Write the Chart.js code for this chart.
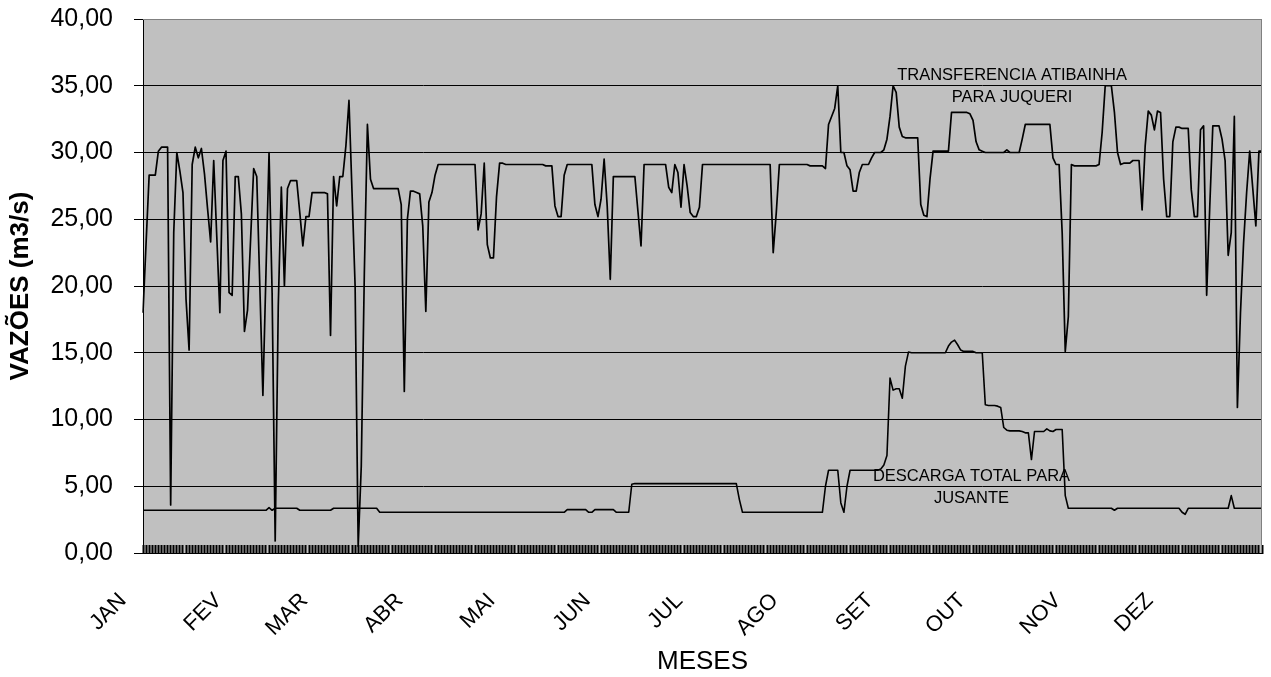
<!DOCTYPE html>
<html>
<head>
<meta charset="utf-8">
<title>Vazões</title>
<script src="https://cdn.jsdelivr.net/npm/chart.js@4.4.1/dist/chart.umd.min.js"></script>
<style>
  html, body { margin: 0; padding: 0; background: #fff; }
  #wrap { width: 1271px; height: 677px; }
</style>
</head>
<body>
<div id="wrap"><canvas id="vazoes" width="1271" height="677"></canvas></div>
<script>
// DATA

const monthNames = ['JAN', 'FEV', 'MAR', 'ABR', 'MAI', 'JUN', 'JUL', 'AGO', 'SET', 'OUT', 'NOV', 'DEZ'];
// first day (index) of each month in a 365-day year
const monthStarts = [0, 31, 59, 90, 120, 151, 181, 212, 243, 273, 304, 334];

// Transferencia Atibainha para Juqueri, m3/s, one value per day
const transferencia = [
  18.0, 23.2, 28.3, 28.3, 28.3, 30.1, 30.4, 30.4, 30.4, 3.6,
  24.0, 30.0, 28.6, 27.0, 19.0, 15.2, 29.1, 30.4, 29.6, 30.3,
  28.4, 25.8, 23.3, 29.4, 23.7, 18.0, 29.4, 30.1, 19.5, 19.3,
  28.2, 28.2, 25.4, 16.6, 18.2, 23.5, 28.8, 28.2, 20.0, 11.8,
  21.0, 30.0, 19.5, 0.9, 18.5, 27.4, 20.0, 27.3, 27.9, 27.9,
  27.9, 25.5, 23.0, 25.2, 25.2, 27.0, 27.0, 27.0, 27.0, 27.0,
  26.9, 16.3, 28.2, 26.0, 28.2, 28.2, 30.5, 33.9, 27.0, 20.0,
  0.5, 6.5, 21.0, 32.1, 28.0, 27.3, 27.3, 27.3, 27.3, 27.3,
  27.3, 27.3, 27.3, 27.3, 26.1, 12.1, 25.0, 27.1, 27.1, 27.0,
  26.9, 24.5, 18.1, 26.3, 27.0, 28.3, 29.1, 29.1, 29.1, 29.1,
  29.1, 29.1, 29.1, 29.1, 29.1, 29.1, 29.1, 29.1, 29.1, 24.2,
  25.4, 29.2, 23.1, 22.1, 22.1, 26.7, 29.2, 29.2, 29.1, 29.1,
  29.1, 29.1, 29.1, 29.1, 29.1, 29.1, 29.1, 29.1, 29.1, 29.1,
  29.1, 29.0, 29.0, 29.0, 26.0, 25.2, 25.2, 28.3, 29.1, 29.1,
  29.1, 29.1, 29.1, 29.1, 29.1, 29.1, 29.1, 26.1, 25.2, 26.5,
  29.5, 26.0, 20.5, 28.2, 28.2, 28.2, 28.2, 28.2, 28.2, 28.2,
  28.2, 25.6, 23.0, 29.1, 29.1, 29.1, 29.1, 29.1, 29.1, 29.1,
  29.1, 27.4, 27.0, 29.1, 28.5, 25.9, 29.1, 27.5, 25.5, 25.2,
  25.2, 25.9, 29.1, 29.1, 29.1, 29.1, 29.1, 29.1, 29.1, 29.1,
  29.1, 29.1, 29.1, 29.1, 29.1, 29.1, 29.1, 29.1, 29.1, 29.1,
  29.1, 29.1, 29.1, 29.1, 29.1, 22.5, 25.5, 29.1, 29.1, 29.1,
  29.1, 29.1, 29.1, 29.1, 29.1, 29.1, 29.1, 29.0, 29.0, 29.0,
  29.0, 29.0, 28.8, 32.1, 32.7, 33.3, 35.0, 30.0, 30.0, 29.0,
  28.7, 27.1, 27.1, 28.5, 29.1, 29.1, 29.1, 29.6, 30.0, 30.0,
  30.0, 30.2, 31.0, 32.7, 35.0, 34.5, 31.9, 31.2, 31.1, 31.1,
  31.1, 31.1, 31.1, 26.1, 25.3, 25.2, 28.0, 30.1, 30.1, 30.1,
  30.1, 30.1, 30.1, 33.0, 33.0, 33.0, 33.0, 33.0, 33.0, 32.9,
  32.4, 30.8, 30.2, 30.1, 30.0, 30.0, 30.0, 30.0, 30.0, 30.0,
  30.0, 30.2, 30.0, 30.0, 30.0, 30.0, 31.0, 32.1, 32.1, 32.1,
  32.1, 32.1, 32.1, 32.1, 32.1, 32.1, 29.6, 29.1, 29.1, 24.0,
  15.1, 17.7, 29.1, 29.0, 29.0, 29.0, 29.0, 29.0, 29.0, 29.0,
  29.0, 29.1, 31.5, 35.0, 35.0, 35.0, 33.0, 30.0, 29.1, 29.2,
  29.2, 29.2, 29.4, 29.4, 29.4, 25.7, 30.5, 33.1, 32.8, 31.7,
  33.1, 33.0, 28.0, 25.2, 25.2, 30.8, 31.9, 31.9, 31.8, 31.8,
  31.8, 27.2, 25.2, 25.2, 31.7, 32.0, 19.3, 25.9, 32.0, 32.0,
  32.0, 31.0, 29.4, 22.3, 24.0, 32.7, 10.9, 18.0, 23.2, 27.0,
  30.1, 27.3, 24.5, 30.1, 30.1,
];

// Descarga total para jusante, m3/s, one value per day
const descarga = [
  3.2, 3.2, 3.2, 3.2, 3.2, 3.2, 3.2, 3.2, 3.2, 3.2,
  3.2, 3.2, 3.2, 3.2, 3.2, 3.2, 3.2, 3.2, 3.2, 3.2,
  3.2, 3.2, 3.2, 3.2, 3.2, 3.2, 3.2, 3.2, 3.2, 3.2,
  3.2, 3.2, 3.2, 3.2, 3.2, 3.2, 3.2, 3.2, 3.2, 3.2,
  3.2, 3.4, 3.2, 3.35, 3.35, 3.35, 3.35, 3.35, 3.35, 3.35,
  3.35, 3.2, 3.2, 3.2, 3.2, 3.2, 3.2, 3.2, 3.2, 3.2,
  3.2, 3.2, 3.35, 3.35, 3.35, 3.35, 3.35, 3.35, 3.35, 3.35,
  3.35, 3.35, 3.35, 3.35, 3.35, 3.35, 3.35, 3.05, 3.05, 3.05,
  3.05, 3.05, 3.05, 3.05, 3.05, 3.05, 3.05, 3.05, 3.05, 3.05,
  3.05, 3.05, 3.05, 3.05, 3.05, 3.05, 3.05, 3.05, 3.05, 3.05,
  3.05, 3.05, 3.05, 3.05, 3.05, 3.05, 3.05, 3.05, 3.05, 3.05,
  3.05, 3.05, 3.05, 3.05, 3.05, 3.05, 3.05, 3.05, 3.05, 3.05,
  3.05, 3.05, 3.05, 3.05, 3.05, 3.05, 3.05, 3.05, 3.05, 3.05,
  3.05, 3.05, 3.05, 3.05, 3.05, 3.05, 3.05, 3.05, 3.25, 3.25,
  3.25, 3.25, 3.25, 3.25, 3.25, 3.05, 3.05, 3.25, 3.25, 3.25,
  3.25, 3.25, 3.25, 3.25, 3.05, 3.05, 3.05, 3.05, 3.05, 5.15,
  5.2, 5.2, 5.2, 5.2, 5.2, 5.2, 5.2, 5.2, 5.2, 5.2,
  5.2, 5.2, 5.2, 5.2, 5.2, 5.2, 5.2, 5.2, 5.2, 5.2,
  5.2, 5.2, 5.2, 5.2, 5.2, 5.2, 5.2, 5.2, 5.2, 5.2,
  5.2, 5.2, 5.2, 5.2, 4.0, 3.05, 3.05, 3.05, 3.05, 3.05,
  3.05, 3.05, 3.05, 3.05, 3.05, 3.05, 3.05, 3.05, 3.05, 3.05,
  3.05, 3.05, 3.05, 3.05, 3.05, 3.05, 3.05, 3.05, 3.05, 3.05,
  3.05, 3.05, 5.0, 6.2, 6.2, 6.2, 6.2, 3.75, 3.05, 5.0,
  6.2, 6.2, 6.2, 6.2, 6.2, 6.2, 6.2, 6.2, 6.2, 6.2,
  6.3, 6.6, 7.3, 13.1, 12.2, 12.3, 12.3, 11.6, 14.0, 15.05,
  15.0, 15.0, 15.0, 15.0, 15.0, 15.0, 15.0, 15.0, 15.0, 15.0,
  15.0, 15.0, 15.5, 15.8, 15.95, 15.6, 15.2, 15.1, 15.1, 15.1,
  15.1, 15.0, 15.0, 15.0, 11.1, 11.05, 11.05, 11.05, 11.0, 10.9,
  9.4, 9.2, 9.15, 9.15, 9.15, 9.15, 9.1, 9.0, 9.0, 7.0,
  9.1, 9.1, 9.1, 9.1, 9.3, 9.15, 9.1, 9.25, 9.25, 9.25,
  4.3, 3.35, 3.35, 3.35, 3.35, 3.35, 3.35, 3.35, 3.35, 3.35,
  3.35, 3.35, 3.35, 3.35, 3.35, 3.35, 3.2, 3.35, 3.35, 3.35,
  3.35, 3.35, 3.35, 3.35, 3.35, 3.35, 3.35, 3.35, 3.35, 3.35,
  3.35, 3.35, 3.35, 3.35, 3.35, 3.35, 3.35, 3.35, 3.05, 2.9,
  3.35, 3.35, 3.35, 3.35, 3.35, 3.35, 3.35, 3.35, 3.35, 3.35,
  3.35, 3.35, 3.35, 3.35, 4.3, 3.35, 3.35, 3.35, 3.35, 3.35,
  3.35, 3.35, 3.35, 3.35, 3.35,
];

// category labels: month name on the first day of each month
const dayLabels = transferencia.map(() => '');
monthStarts.forEach((day, m) => (dayLabels[day] = monthNames[m]));

// text written inside the plot, placed at (day, value)
const notes = [
  { text: 'TRANSFERENCIA ATIBAINHA', day: 282.7, value: 35.8 },
  { text: 'PARA JUQUERI', day: 282.7, value: 34.15 },
  { text: 'DESCARGA TOTAL PARA', day: 269.5, value: 5.75 },
  { text: 'JUSANTE', day: 269.5, value: 4.1 },
];

const FONT = "'Liberation Sans', Arial, sans-serif";
Chart.defaults.font.family = FONT;
Chart.defaults.color = '#000';

// PLOT AREA (grey background, grey frame on top/right)

const plotArea = {
  id: 'plotArea',
  beforeDraw(chart) {
    const { ctx, chartArea: a } = chart;
    ctx.save();
    ctx.fillStyle = '#c0c0c0';
    ctx.fillRect(a.left, a.top, a.right - a.left, a.bottom - a.top);
    ctx.restore();
  },
  afterDatasetsDraw(chart) {
    const { ctx, chartArea: a } = chart;
    ctx.save();
    ctx.strokeStyle = '#808080';
    ctx.lineWidth = 1;
    ctx.beginPath();
    ctx.moveTo(a.left, a.top + 0.5);
    ctx.lineTo(a.right - 0.5, a.top + 0.5);
    ctx.lineTo(a.right - 0.5, a.bottom);
    ctx.stroke();
    ctx.restore();
  },
};

// LABELS INSIDE THE CHART

const noteLabels = {
  id: 'noteLabels',
  afterDatasetsDraw(chart) {
    const { ctx, scales } = chart;
    ctx.save();
    ctx.font = '16.5px ' + FONT;
    ctx.fillStyle = '#000';
    ctx.textAlign = 'center';
    ctx.textBaseline = 'middle';
    notes.forEach((n) => {
      ctx.fillText(n.text, scales.x.getPixelForValue(n.day), scales.y.getPixelForValue(n.value));
    });
    ctx.restore();
  },
};

// MAIN CHART

new Chart(document.getElementById('vazoes'), {
  type: 'line',
  data: {
    labels: dayLabels,
    datasets: [
      {
        label: 'TRANSFERENCIA ATIBAINHA PARA JUQUERI',
        data: transferencia,
        borderColor: '#000',
        borderWidth: 1.7,
        borderJoinStyle: 'round',
        pointRadius: 0,
        tension: 0,
        fill: false,
      },
      {
        label: 'DESCARGA TOTAL PARA JUSANTE',
        data: descarga,
        borderColor: '#000',
        borderWidth: 1.6,
        borderJoinStyle: 'round',
        pointRadius: 0,
        tension: 0,
        fill: false,
      },
    ],
  },
  options: {
    responsive: false,
    animation: false,
    devicePixelRatio: 1,
    layout: { padding: { left: 0, right: 9, top: 19, bottom: 0 } },
    plugins: {
      legend: { display: false },
      tooltip: { enabled: false },
    },
    scales: {
      x: {
        type: 'category',
        offset: false,
        border: { color: '#000', width: 1 },
        grid: {
          drawOnChartArea: false,
          drawTicks: true,
          tickLength: -8,
          tickColor: '#000',
          tickWidth: 2,
        },
        ticks: {
          autoSkip: false,
          minRotation: 45,
          maxRotation: 45,
          labelOffset: -20,
          padding: 43,
          font: { size: 22 },
          color: '#000',
        },
        title: {
          display: true,
          text: 'MESES',
          font: { size: 26 },
          color: '#000',
          padding: { top: 0, bottom: 0 },
        },
        afterFit: (scale) => {
          scale.height = 124;
          // no extra room for the rotated labels' overhang
          scale.paddingLeft = 0;
          scale.paddingRight = 0;
        },
      },
      y: {
        min: 0,
        max: 40,
        border: { color: '#000', width: 1 },
        grid: {
          color: (c) => (c.tick && c.tick.value === 40 ? '#808080' : '#000'),
          tickColor: '#000',
          tickLength: 9,
          lineWidth: 1,
        },
        ticks: {
          stepSize: 5,
          padding: 21,
          font: { size: 25 },
          color: '#000',
          callback: (v) => v.toFixed(2).replace('.', ','),
        },
        title: {
          display: true,
          text: 'VAZÕES (m3/s)',
          font: { size: 26, weight: 'bold' },
          color: '#000',
          padding: { top: 5, bottom: 0 },
        },
        afterFit: (scale) => {
          scale.width = 143;
          scale.paddingTop = 0;
          scale.paddingBottom = 0;
        },
      },
    },
  },
  plugins: [plotArea, noteLabels],
});
</script>
</body>
</html>
